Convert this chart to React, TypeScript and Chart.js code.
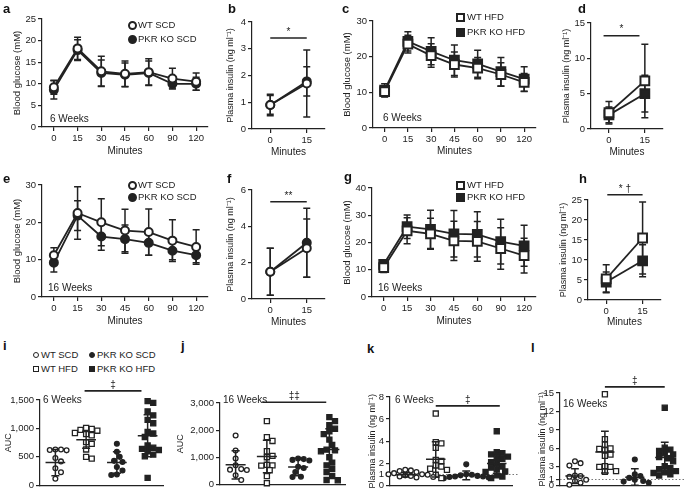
import React, { useEffect, useRef } from "react";
import { Chart, registerables } from "chart.js";

Chart.register(...registerables);

const FONT = "'Liberation Sans', Arial, Helvetica, sans-serif";
const INK = "#222222";
const TICK_SIZE = 9.5;
const TITLE_SIZE = 10;
const TITLE_LH = TITLE_SIZE * 1.2;
const Y_TITLE_SIZE = 9;

// ---------------- data ----------------
const minutes = ["0", "15", "30", "45", "60", "90", "120"];
const insulinTimes = ["0", "15"];
const groups = ["WT SCD", "WT HFD", "PKR KO SCD", "PKR KO HFD"];

// a: 6 weeks SCD glucose
const aWtMean = [9.2, 18.2, 12.9, 12.3, 12.7, 11.2, 10.5];
const aWtSd = [1.6, 2.6, 3.5, 3.0, 3.1, 2.4, 2.0];
const aKoMean = [8.6, 17.8, 12.5, 12.1, 12.5, 10.0, 10.0];
const aKoSd = [2.1, 2.4, 3.0, 2.7, 2.8, 1.0, 1.5];
// b: 6 weeks SCD insulin
const bWtMean = [0.9, 1.7];
const bWtSd = [0.4, 1.25];
const bKoMean = [0.9, 1.78];
const bKoSd = [0.35, 0.55];
// c: 6 weeks HFD glucose
const cWtMean = [10.2, 23.5, 20.3, 17.8, 16.8, 15.0, 12.8];
const cWtSd = [1.5, 2.5, 3.3, 3.5, 3.0, 3.3, 2.5];
const cKoMean = [10.6, 24.3, 21.5, 19.0, 18.0, 15.8, 13.7];
const cKoSd = [1.8, 2.7, 3.8, 4.3, 3.8, 4.0, 3.5];
// d: 6 weeks HFD insulin
const dWtMean = [2.3, 6.8];
const dWtSd = [1.6, 5.2];
const dKoMean = [2.0, 5.0];
const dKoSd = [1.1, 2.6];
// e: 16 weeks SCD glucose
const eWtMean = [11.2, 22.5, 20.0, 17.8, 17.4, 15.1, 13.4];
const eWtSd = [2.0, 7.0, 6.3, 5.7, 6.2, 5.6, 4.6];
const eKoMean = [9.2, 21.8, 16.2, 15.5, 14.5, 12.4, 11.2];
const eKoSd = [2.5, 4.0, 3.7, 3.8, 3.3, 2.4, 2.0];
// f: 16 weeks SCD insulin
const fWtMean = [1.5, 2.8];
const fWtSd = [1.3, 1.6];
const fKoMean = [1.5, 3.1];
const fKoSd = [1.3, 1.9];
// g: 16 weeks HFD glucose
const gWtMean = [10.8, 24.3, 23.2, 20.6, 20.4, 17.8, 15.2];
const gWtSd = [1.8, 4.8, 5.7, 7.2, 7.3, 7.6, 6.4];
const gKoMean = [12.0, 25.8, 24.8, 23.2, 23.0, 20.3, 18.8];
const gKoSd = [1.3, 4.3, 7.0, 8.5, 8.3, 8.2, 7.5];
// h: 16 weeks HFD insulin
const hWtMean = [5.3, 15.5];
const hWtSd = [3.5, 9.0];
const hKoMean = [4.5, 9.8];
const hKoSd = [2.5, 4.0];

// i: AUC 6 weeks
const iWtScd = [630, 620, 630, 615, 480, 420, 300, 230, 115];
const iWtHfd = [1010, 990, 975, 960, 920, 900, 880, 760, 730, 630, 500, 470];
const iKoScd = [730, 590, 500, 430, 410, 320, 260, 190, 180];
const iKoHfd = [1480, 1450, 1300, 1230, 1150, 1090, 940, 910, 850, 700, 660, 640, 620, 600, 540, 510, 130];
const iMeans = [400, 800, 400, 870];
const iSds = [230, 150, 190, 370];
// j: AUC 16 weeks
const jWtScd = [1800, 1250, 950, 700, 560, 540, 530, 330, 160];
const jWtHfd = [2330, 1740, 1600, 1220, 1050, 1000, 720, 700, 690, 520, 300, 40];
const jKoScd = [950, 930, 900, 880, 650, 600, 450, 280, 270];
const jKoHfd = [2480, 2330, 2180, 2050, 1960, 1850, 1650, 1450, 1280, 1250, 1220, 1000, 800, 700, 560, 450, 300, 160, 150];
const jMeans = [720, 1030, 640, 1280];
const jSds = [520, 600, 320, 770];
// k: insulin 6 weeks
const kWtScd = [1.4, 1.35, 1.3, 1.2, 1.1, 1.0, 1.0, 0.95, 0.9, 0.9, 0.85, 0.8, 0.75, 0.7];
const kWtHfd = [6.5, 3.9, 3.8, 3.4, 2.3, 2.2, 1.8, 1.7, 1.5, 1.4, 0.95, 0.65];
const kKoScd = [1.9, 1.0, 0.95, 0.9, 0.85, 0.8, 0.8, 0.75, 0.7, 0.65];
const kKoHfd = [4.9, 3.0, 2.9, 2.8, 2.6, 2.5, 2.4, 2.1, 2.0, 1.7, 1.6, 1.5, 1.25, 1.2, 0.9, 0.8, 0.65];
const kMeans = [0.95, 2.35, 0.9, 1.97];
const kSds = [0.2, 1.6, 0.4, 0.9];
const kTicks = [0, 1, 2, 4, 6, 8];
// l: insulin 16 weeks
const lWtScd = [3.9, 3.6, 3.2, 1.6, 1.5, 1.4, 0.9, 0.7, 0.4, 0.1];
const lWtHfd = [14.8, 7.5, 6.6, 6.0, 5.9, 5.7, 5.0, 4.8, 3.1, 3.0, 3.0, 2.3, 2.2];
const lKoScd = [4.2, 1.8, 1.5, 1.2, 0.9, 0.7, 0.6, 0.4];
const lKoHfd = [12.6, 6.1, 5.8, 5.6, 5.2, 5.0, 4.6, 4.4, 3.9, 3.1, 2.8, 2.6, 2.3, 2.1, 2.0, 1.8, 1.6];
const lMeans = [1.5, 5.4, 1.3, 4.5];
const lSds = [1.2, 3.4, 1.4, 2.5];
const lTicks = [0, 1, 3, 6, 9, 12, 15];

// ---------------- panel specs ----------------
const WT_C = { style: "circle", filled: false };
const KO_C = { style: "circle", filled: true };
const WT_S = { style: "rect", filled: false };
const KO_S = { style: "rect", filled: true };
const groupStyles = [WT_C, WT_S, KO_C, KO_S];

const GLU = "Blood glucose (mM)";
const INS = "Plasma insulin (ng ml\u207B\u00B9)";

const panels: any[] = [
  { kind: "line", L: 42, R: 208, T: 19, B: 127, yTitleX: 17, xTitleY: 151, yTitle: GLU, titleSize: 9.5, yMax: 25, yStep: 5, labels: minutes,
    series: [{ name: "WT SCD", mean: aWtMean, sd: aWtSd, ...WT_C }, { name: "PKR KO SCD", mean: aKoMean, sd: aKoSd, ...KO_C }] },
  { kind: "line", L: 252, R: 325, T: 22, B: 129, yTitleX: 231, xTitleY: 152, yTitle: INS, yMax: 4, yStep: 1, labels: insulinTimes,
    series: [{ name: "WT SCD", mean: bWtMean, sd: bWtSd, ...WT_C }, { name: "PKR KO SCD", mean: bKoMean, sd: bKoSd, ...KO_C }],
    sig: { from: 0, to: 1, y: 3.4, text: "*" } },
  { kind: "line", L: 373, R: 538, T: 21, B: 128, yTitleX: 347, xTitleY: 151, yTitle: GLU, titleSize: 9.5, yMax: 30, yStep: 10, labels: minutes,
    series: [{ name: "WT HFD", mean: cWtMean, sd: cWtSd, ...WT_S }, { name: "PKR KO HFD", mean: cKoMean, sd: cKoSd, ...KO_S }] },
  { kind: "line", L: 591, R: 665, T: 23, B: 129, yTitleX: 567, xTitleY: 152, yTitle: INS, yMax: 15, yStep: 5, labels: insulinTimes,
    series: [{ name: "WT HFD", mean: dWtMean, sd: dWtSd, ...WT_S }, { name: "PKR KO HFD", mean: dKoMean, sd: dKoSd, ...KO_S }],
    sig: { from: -0.15, to: 0.85, y: 13.2, text: "*" } },
  { kind: "line", L: 42, R: 208, T: 185, B: 297, yTitleX: 17, xTitleY: 321, yTitle: GLU, titleSize: 9.5, yMax: 30, yStep: 10, labels: minutes,
    series: [{ name: "WT SCD", mean: eWtMean, sd: eWtSd, ...WT_C }, { name: "PKR KO SCD", mean: eKoMean, sd: eKoSd, ...KO_C }] },
  { kind: "line", L: 252, R: 325, T: 190, B: 299, yTitleX: 231, xTitleY: 322, yTitle: INS, yMax: 6, yStep: 2, labels: insulinTimes,
    series: [{ name: "WT SCD", mean: fWtMean, sd: fWtSd, ...WT_C }, { name: "PKR KO SCD", mean: fKoMean, sd: fKoSd, ...KO_C }],
    sig: { from: 0, to: 1, y: 5.35, text: "**" } },
  { kind: "line", L: 372, R: 538, T: 188, B: 297, yTitleX: 347, xTitleY: 321, yTitle: GLU, titleSize: 9.5, yMax: 40, yStep: 10, labels: minutes,
    series: [{ name: "WT HFD", mean: gWtMean, sd: gWtSd, ...WT_S }, { name: "PKR KO HFD", mean: gKoMean, sd: gKoSd, ...KO_S }] },
  { kind: "line", L: 588, R: 663, T: 200, B: 300, yTitleX: 564, xTitleY: 322, yTitle: INS, yMax: 25, yStep: 5, labels: insulinTimes, topPad: 24,
    series: [{ name: "WT HFD", mean: hWtMean, sd: hWtSd, ...WT_S }, { name: "PKR KO HFD", mean: hKoMean, sd: hKoSd, ...KO_S }],
    sig: { from: 0.03, to: 1, y: 26.3, text: "* \u2020" } },
  { kind: "dots", L: 40, R: 163, T: 400, B: 487, yTitleX: 9, yTitle: "AUC", yMax: 1500, yStep: 500, topPad: 22,
    values: [iWtScd, iWtHfd, iKoScd, iKoHfd], means: iMeans, sds: iSds, sig: { from: 0.95, to: 2.8, y: 1660, text: "\u2021" } },
  { kind: "dots", L: 220, R: 345, T: 403, B: 486, yTitleX: 181, yTitle: "AUC", yMax: 3000, yStep: 1000, topPad: 22,
    values: [jWtScd, jWtHfd, jKoScd, jKoHfd], means: jMeans, sds: jSds, sig: { from: 0.85, to: 2.9, y: 3030, text: "\u2021\u2021" } },
  { kind: "dots", L: 390, R: 512, T: 397, B: 487, yTitleX: 373, yTitle: INS, yMax: 8, ticks: kTicks, topPad: 22, refLine: 1,
    values: [kWtScd, kWtHfd, kKoScd, kKoHfd], means: kMeans, sds: kSds, sig: { from: 1.0, to: 3.1, y: 7.2, text: "\u2021" } },
  { kind: "dots", L: 560, R: 680, T: 393, B: 487, yTitleX: 543, yTitle: INS, yMax: 15, ticks: lTicks, topPad: 22, refLine: 1,
    values: [lWtScd, lWtHfd, lKoScd, lKoHfd], means: lMeans, sds: lSds, sig: { from: 1.0, to: 3.0, y: 16.0, text: "\u2021" } },
];

// ---------------- helpers ----------------
function frame(p: any) {
  const tlh = (p.titleSize ?? Y_TITLE_SIZE) * 1.2;
  const scaleLeft = p.yTitleX - tlh / 2;
  const cx = Math.max(0, Math.floor(scaleLeft) - 1);
  const topPad = p.topPad ?? 10;
  const cy = Math.max(0, Math.floor(p.T - topPad));
  const cr = Math.min(685, p.R + 6);
  const hasX = p.xTitleY != null;
  const bottomEdge = hasX ? p.xTitleY + TITLE_LH / 2 : p.B;
  const cb = Math.min(493, Math.ceil(hasX ? bottomEdge + 2 : p.B + 6));
  return {
    cx, cy, cw: cr - cx, ch: cb - cy,
    padding: { left: scaleLeft - cx, top: p.T - cy, right: cr - p.R, bottom: cb - bottomEdge },
    yW: p.L - scaleLeft,
    xH: bottomEdge - p.B,
  };
}

function swarm(values: number[], group: number, pxY: number, pxX: number, d: number) {
  const order = values.map((_, i) => i).sort((a, b) => values[b] - values[a]);
  const placed: { px: number; py: number }[] = [];
  const out: any[] = new Array(values.length);
  for (const i of order) {
    const py = values[i] * pxY;
    let px = 0;
    for (let k = 0; k < 60; k++) {
      const cand = (k % 2 === 1 ? 1 : -1) * Math.ceil(k / 2) * d * 0.5;
      const hit = placed.some((q) => Math.hypot(q.px - cand, q.py - py) < d);
      if (!hit) { px = cand; break; }
    }
    placed.push({ px, py });
    out[i] = { x: group + px / pxX, y: values[i] };
  }
  return out;
}

function makePlugin(p: any) {
  return {
    id: "fig",
    beforeDatasetsDraw(chart: any) {
      const ctx = chart.ctx;
      const ys = chart.scales.y;
      const ca = chart.chartArea;
      ctx.save();
      if (p.refLine != null) {
        const y = Math.round(ys.getPixelForValue(p.refLine)) + 0.5;
        ctx.strokeStyle = "#777";
        ctx.lineWidth = 1;
        ctx.setLineDash([1.5, 2]);
        ctx.beginPath();
        ctx.moveTo(ca.left, y);
        ctx.lineTo(ca.right + 6, y);
        ctx.stroke();
        ctx.setLineDash([]);
      }
      if (p.kind === "line") {
        ctx.strokeStyle = INK;
        ctx.lineWidth = 1.5;
        p.series.forEach((s: any, di: number) => {
          const meta = chart.getDatasetMeta(di);
          s.mean.forEach((m: number, j: number) => {
            const x = meta.data[j].x;
            const yt = ys.getPixelForValue(m + s.sd[j]);
            const yb = ys.getPixelForValue(Math.max(0, m - s.sd[j]));
            ctx.beginPath();
            ctx.moveTo(x, yt); ctx.lineTo(x, yb);
            ctx.moveTo(x - 3.5, yt); ctx.lineTo(x + 3.5, yt);
            ctx.moveTo(x - 3.5, yb); ctx.lineTo(x + 3.5, yb);
            ctx.stroke();
          });
        });
      }
      ctx.restore();
    },
    afterDatasetsDraw(chart: any) {
      const ctx = chart.ctx;
      const xs = chart.scales.x;
      const ys = chart.scales.y;
      ctx.save();
      ctx.strokeStyle = INK;
      if (p.kind === "dots") {
        ctx.lineWidth = 1.5;
        p.means.forEach((m: number, g: number) => {
          const x = xs.getPixelForValue(g);
          const ym = ys.getPixelForValue(m);
          const yt = ys.getPixelForValue(m + p.sds[g]);
          const yb = ys.getPixelForValue(Math.max(0, m - p.sds[g]));
          const hw = xs.getPixelForValue(g + 0.32) - x;
          const cw = xs.getPixelForValue(g + 0.13) - x;
          ctx.beginPath();
          ctx.moveTo(x - hw, ym); ctx.lineTo(x + hw, ym);
          ctx.moveTo(x, yt); ctx.lineTo(x, yb);
          ctx.moveTo(x - cw, yt); ctx.lineTo(x + cw, yt);
          ctx.moveTo(x - cw, yb); ctx.lineTo(x + cw, yb);
          ctx.stroke();
        });
      }
      if (p.sig) {
        const y = ys.getPixelForValue(p.sig.y);
        const x1 = xs.getPixelForValue(p.sig.from);
        const x2 = xs.getPixelForValue(p.sig.to);
        ctx.lineWidth = 1.6;
        ctx.beginPath();
        ctx.moveTo(x1, y); ctx.lineTo(x2, y);
        ctx.stroke();
        ctx.fillStyle = INK;
        ctx.font = `10px ${FONT}`;
        ctx.textAlign = "center";
        ctx.textBaseline = "bottom";
        ctx.fillText(p.sig.text, (x1 + x2) / 2, y - 1);
      }
      ctx.restore();
    },
  };
}

function buildConfig(p: any) {
  const f = frame(p);
  const tickFont = { family: FONT, size: TICK_SIZE };
  const titleFont = { family: FONT, size: TITLE_SIZE };
  const yTitleFont = { family: FONT, size: p.titleSize ?? Y_TITLE_SIZE };
  const axisGrid = { display: true, drawOnChartArea: false, drawTicks: true, tickLength: 4, color: INK, lineWidth: 1.2, offset: false };
  const border = { display: true, color: INK, width: 1.2 };
  const yScale: any = {
    type: "linear", min: 0, max: p.yMax,
    ticks: {
      font: tickFont, color: INK, padding: 2,
      stepSize: p.yStep,
      callback: (v: number) => Number(v).toLocaleString("en-US"),
    },
    grid: axisGrid, border,
    title: { display: true, text: p.yTitle, font: yTitleFont, color: INK, padding: 0 },
    afterFit: (s: any) => { s.width = f.yW; },
  };
  if (p.ticks) {
    yScale.afterBuildTicks = (s: any) => { s.ticks = p.ticks.map((v: number) => ({ value: v })); };
  }
  let config: any;
  if (p.kind === "line") {
    config = {
      type: "line",
      data: {
        labels: p.labels,
        datasets: p.series.map((s: any) => ({
          label: s.name,
          data: s.mean,
          borderColor: INK,
          borderWidth: 1.8,
          pointStyle: s.style,
          pointRadius: s.style === "rect" ? 6.2 : 4,
          pointBorderWidth: 2,
          pointBorderColor: INK,
          pointBackgroundColor: s.filled ? INK : "#ffffff",
          tension: 0,
          fill: false,
          clip: false,
        })),
      },
      options: {
        scales: {
          x: {
            type: "category", offset: true,
            ticks: { font: tickFont, color: INK, padding: 2, autoSkip: false, maxRotation: 0 },
            grid: axisGrid, border,
            title: { display: true, text: "Minutes", font: titleFont, color: INK, padding: 0 },
            afterFit: (s: any) => { s.height = f.xH; },
          },
          y: yScale,
        },
      },
    };
  } else {
    const pxY = (p.B - p.T) / p.yMax;
    const pxX = (p.R - p.L) / 4;
    config = {
      type: "scatter",
      data: {
        datasets: p.values.map((vals: number[], g: number) => {
          const st = groupStyles[g];
          return {
            label: groups[g],
            data: swarm(vals, g, pxY, pxX, 5.6),
            pointStyle: st.style,
            pointRadius: st.style === "rect" ? 3.6 : 2.4,
            pointBorderWidth: 1.3,
            pointBorderColor: INK,
            pointBackgroundColor: st.filled ? INK : "#ffffff",
            borderColor: INK,
            backgroundColor: st.filled ? INK : "#ffffff",
            clip: false,
          };
        }),
      },
      options: {
        scales: {
          x: {
            type: "linear", min: -0.5, max: 3.5,
            ticks: { display: false },
            grid: { display: false },
            border,
            afterFit: (s: any) => { s.height = 0; },
          },
          y: yScale,
        },
      },
    };
  }
  config.options.responsive = false;
  config.options.maintainAspectRatio = false;
  config.options.animation = false;
  config.options.devicePixelRatio = 1;
  config.options.layout = { padding: f.padding };
  config.options.plugins = { legend: { display: false }, tooltip: { enabled: false } };
  config.plugins = [makePlugin(p)];
  return { config, f };
}

function Panel({ p }: { p: any }) {
  const ref = useRef<HTMLCanvasElement | null>(null);
  const f = frame(p);
  useEffect(() => {
    if (!ref.current) return;
    const { config } = buildConfig(p);
    const chart = new Chart(ref.current, config);
    return () => chart.destroy();
  }, [p]);
  return (
    <canvas
      ref={ref}
      width={f.cw}
      height={f.ch}
      style={{ position: "absolute", left: f.cx, top: f.cy, width: f.cw, height: f.ch }}
    />
  );
}

// ---------------- overlays ----------------
const letters = [
  ["a", 3, 1], ["b", 228, 1], ["c", 342, 1], ["d", 578, 1],
  ["e", 3, 171], ["f", 227, 171], ["g", 344, 169], ["h", 579, 171],
  ["i", 3, 338], ["j", 181, 338], ["k", 367, 341], ["l", 531, 340],
];

function Marker({ x, y, size, style, filled, bw }: any) {
  return (
    <div
      style={{
        position: "absolute",
        left: x - size / 2,
        top: y - size / 2,
        width: size,
        height: size,
        boxSizing: "border-box",
        border: `${bw}px solid ${INK}`,
        borderRadius: style === "circle" ? "50%" : 0,
        background: filled ? INK : "#fff",
      }}
    />
  );
}

function Label({ x, y, text, size }: any) {
  return (
    <div
      style={{
        position: "absolute",
        left: x,
        top: y - size * 0.6,
        fontSize: size,
        lineHeight: `${size * 1.2}px`,
        color: INK,
        whiteSpace: "nowrap",
        fontFamily: FONT,
      }}
    >
      {text}
    </div>
  );
}

const lineLegends = [
  { mx: 132, tx: 138, y1: 25, y2: 39, names: ["WT SCD", "PKR KO SCD"], style: "circle" },
  { mx: 460, tx: 467, y1: 17, y2: 32, names: ["WT HFD", "PKR KO HFD"], style: "rect" },
  { mx: 132, tx: 138, y1: 185, y2: 197, names: ["WT SCD", "PKR KO SCD"], style: "circle" },
  { mx: 460, tx: 467, y1: 185, y2: 197, names: ["WT HFD", "PKR KO HFD"], style: "rect" },
];

const weekLabels = [
  { x: 50, y: 119, text: "6 Weeks" },
  { x: 383, y: 118, text: "6 Weeks" },
  { x: 48, y: 288, text: "16 Weeks" },
  { x: 378, y: 288, text: "16 Weeks" },
  { x: 43, y: 400, text: "6 Weeks" },
  { x: 223, y: 400, text: "16 Weeks" },
  { x: 395, y: 400, text: "6 Weeks" },
  { x: 563, y: 404, text: "16 Weeks" },
];

export default function App() {
  return (
    <div
      style={{
        position: "absolute",
        left: 0,
        top: 0,
        width: 685,
        height: 493,
        overflow: "hidden",
        background: "#fff",
        fontFamily: FONT,
      }}
    >
      {panels.map((p, i) => (
        <Panel key={i} p={p} />
      ))}
      {letters.map(([t, x, y]: any) => (
        <div
          key={t}
          style={{ position: "absolute", left: x, top: y, fontSize: 13, fontWeight: "bold", color: "#111", lineHeight: "15px", fontFamily: FONT }}
        >
          {t}
        </div>
      ))}
      {lineLegends.map((lg, i) => (
        <React.Fragment key={"lg" + i}>
          <Marker x={lg.mx} y={lg.y1} size={9} style={lg.style} filled={false} bw={2} />
          <Label x={lg.tx} y={lg.y1} text={lg.names[0]} size={9.5} />
          <Marker x={lg.mx} y={lg.y2} size={9} style={lg.style} filled={true} bw={2} />
          <Label x={lg.tx} y={lg.y2} text={lg.names[1]} size={9.5} />
        </React.Fragment>
      ))}
      <Marker x={36} y={355} size={6} style="circle" filled={false} bw={1.3} />
      <Label x={41} y={355} text={groups[0]} size={9.5} />
      <Marker x={92} y={355} size={6} style="circle" filled={true} bw={1.3} />
      <Label x={97} y={355} text={groups[2]} size={9.5} />
      <Marker x={36} y={369} size={6} style="rect" filled={false} bw={1.3} />
      <Label x={41} y={369} text={groups[1]} size={9.5} />
      <Marker x={92} y={369} size={6} style="rect" filled={true} bw={1.3} />
      <Label x={97} y={369} text={groups[3]} size={9.5} />
      {weekLabels.map((w, i) => (
        <Label key={"w" + i} x={w.x} y={w.y} text={w.text} size={10} />
      ))}
    </div>
  );
}
